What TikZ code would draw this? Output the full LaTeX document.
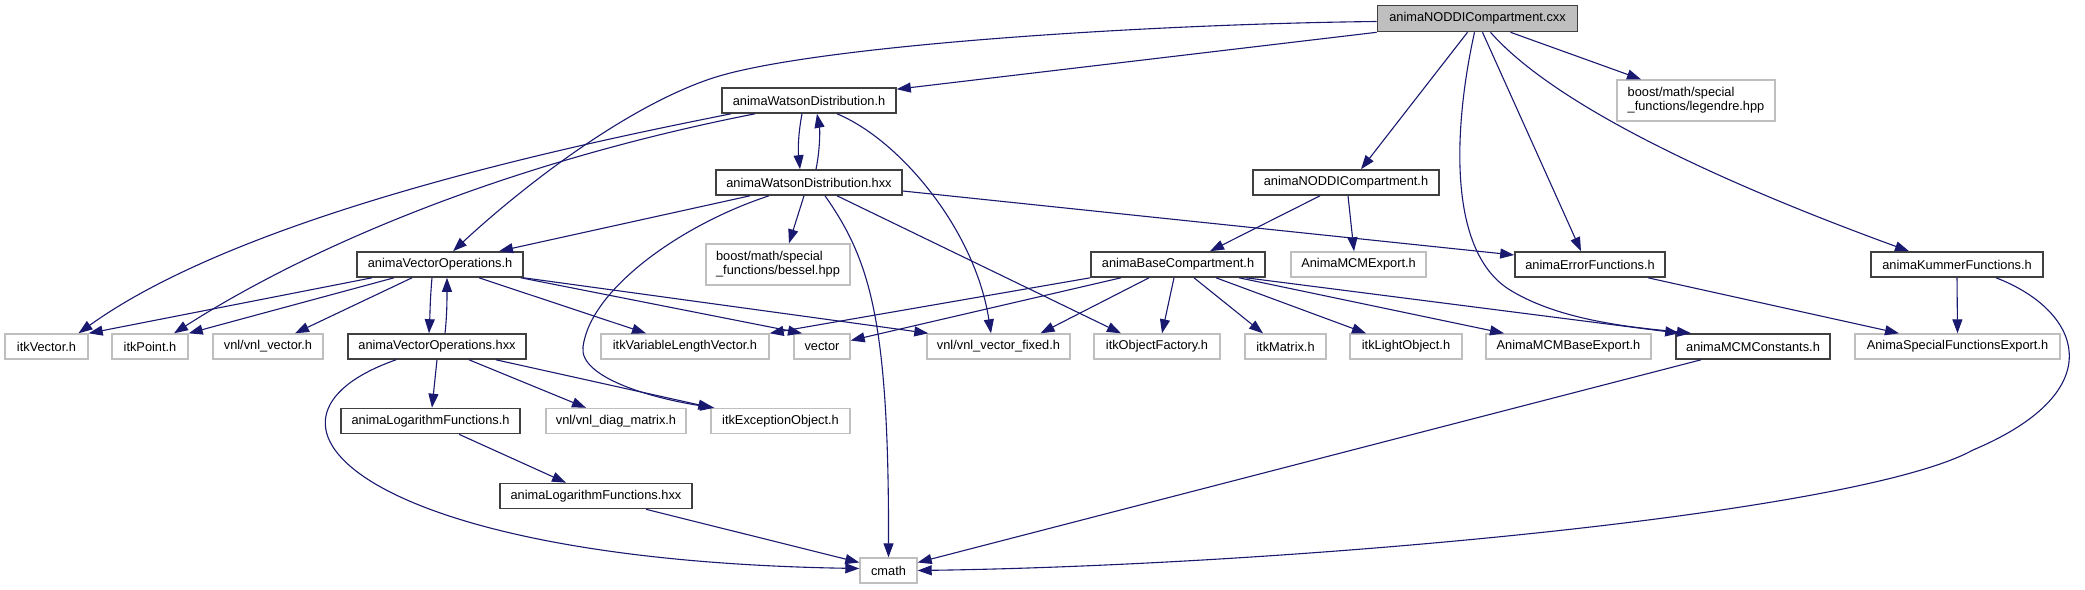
\documentclass[tikz,border=0pt]{standalone}
\usepackage{fontspec}
\setmainfont{Liberation Sans}
\usetikzlibrary{arrows.meta}
\definecolor{edgec}{HTML}{191970}
\definecolor{extc}{HTML}{BFBFBF}
\definecolor{docc}{HTML}{404040}
\begin{document}
\begin{tikzpicture}[x=1pt,y=-1pt,
  box/.style={rectangle, inner sep=0pt, minimum height=25pt, font=\fontsize{12.8}{14}\selectfont, text=black},
  doc/.style={box, draw=docc, line width=1.6pt, fill=white},
  ext/.style={box, draw=extc, line width=1.4pt, fill=white},
  mainf/.style={box, draw=docc, line width=1.6pt, fill=extc},
  e/.style={draw=edgec, line width=1.1pt, -{Triangle[length=14pt,width=10pt]}}]
\useasboundingbox[fill=white] (0,0) rectangle (2085,589);
% row 0
\node[mainf, minimum width=200pt, minimum height=26pt] (cxx) at (1477.5,18.5) {animaNODDICompartment.cxx};
% row 1
\node[doc, minimum width=174pt] (wh) at (809,100.5) {animaWatsonDistribution.h};
\node[ext, minimum width=158pt, minimum height=41pt, align=left] (leg) at (1696,100.5) {boost/math/special\\\_functions/legendre.hpp};
% row 2
\node[doc, minimum width=186pt] (whx) at (809,182.5) {animaWatsonDistribution.hxx};
\node[doc, minimum width=186pt] (noddi) at (1346,182.5) {animaNODDICompartment.h};
% row 3
\node[doc, minimum width=166pt] (vo) at (440,264.5) {animaVectorOperations.h};
\node[ext, minimum width=144pt, minimum height=41pt, align=left] (bessel) at (778,264.5) {boost/math/special\\\_functions/bessel.hpp};
\node[doc, minimum width=174pt] (base) at (1178,264.5) {animaBaseCompartment.h};
\node[ext, minimum width=135pt] (mcmexp) at (1358.5,264.5) {AnimaMCMExport.h};
\node[doc, minimum width=150pt] (err) at (1590,264.5) {animaErrorFunctions.h};
\node[doc, minimum width=172pt] (kum) at (1957,264.5) {animaKummerFunctions.h};
% row 4
\node[ext, minimum width=83pt] (itkvec) at (46.5,346.5) {itkVector.h};
\node[ext, minimum width=76pt] (itkpt) at (150,346.5) {itkPoint.h};
\node[ext, minimum width=110pt] (vnlvec) at (268,346.5) {vnl/vnl\_vector.h};
\node[doc, minimum width=178pt] (vox) at (437,346.5) {animaVectorOperations.hxx};
\node[ext, minimum width=168pt] (ivlv) at (685,346.5) {itkVariableLengthVector.h};
\node[ext, minimum width=56pt] (vect) at (822,346.5) {vector};
\node[ext, minimum width=143pt] (vnlfix) at (998.5,346.5) {vnl/vnl\_vector\_fixed.h};
\node[ext, minimum width=126pt] (iof) at (1157,346.5) {itkObjectFactory.h};
\node[ext, minimum width=81pt] (imat) at (1285.5,346.5) {itkMatrix.h};
\node[ext, minimum width=112pt] (ilo) at (1406,346.5) {itkLightObject.h};
\node[ext, minimum width=165pt] (mcmbase) at (1568.5,346.5) {AnimaMCMBaseExport.h};
\node[doc, minimum width=154pt] (mcmc) at (1753,346.5) {animaMCMConstants.h};
\node[ext, minimum width=205pt] (sfe) at (1957.5,346.5) {AnimaSpecialFunctionsExport.h};
% row 5
\node[doc, minimum width=179pt] (logh) at (430.5,421) {animaLogarithmFunctions.h};
\node[ext, minimum width=140pt] (diag) at (616,421) {vnl/vnl\_diag\_matrix.h};
\node[ext, minimum width=139pt] (iexc) at (780.5,421) {itkExceptionObject.h};
% row 6
\node[doc, minimum width=192pt] (logx) at (596,496) {animaLogarithmFunctions.hxx};
% row 7
\node[ext, minimum width=57pt] (cmath) at (888.5,570.5) {cmath};

% edges from cxx
\draw[e] ([yshift=-3pt]cxx.west) .. controls (1150,24) and (820,45) .. (716,77) .. controls (633,103) and (530,180) .. ([xshift=13pt]vo.north);
\draw[e] (cxx.south west) -- ([yshift=-2pt]wh.north east);
\draw[e] ([xshift=-10pt]cxx.south) -- ([xshift=15pt]noddi.north);
\draw[e] ([xshift=-3pt]cxx.south) .. controls (1455,120) and (1445,250) .. (1510,290) .. controls (1562,322) and (1640,328) .. ([xshift=-62pt]mcmc.north);
\draw[e] ([xshift=5pt]cxx.south) -- ([xshift=-9pt]err.north);
\draw[e] ([xshift=13pt]cxx.south) .. controls (1550,100) and (1700,175) .. ([xshift=-48pt]kum.north);
\draw[e] ([xshift=33pt]cxx.south) -- ([xshift=-55pt]leg.north);
% edges from Watson.h
\draw[e] ([xshift=-7pt]wh.south) .. controls (798,135) and (798,150) .. ([xshift=-9pt]whx.north);
\draw[e] ([xshift=7pt]whx.north) .. controls (820,150) and (820,130) .. ([xshift=8pt]wh.south);
\draw[e] ([xshift=-78pt]wh.south) .. controls (600,140) and (250,210) .. ([xshift=32pt]itkvec.north);
\draw[e] ([xshift=-54pt]wh.south) .. controls (520,160) and (320,240) .. ([xshift=24pt]itkpt.north);
\draw[e] ([xshift=28pt]wh.south) .. controls (900,140) and (975,230) .. ([xshift=-7.5pt]vnlfix.north);
% edges from Watson.hxx
\draw[e] ([xshift=-59pt]whx.south) -- ([xshift=59pt]vo.north);
\draw[e] ([xshift=-5pt]whx.south) -- ([xshift=11pt]bessel.north);
\draw[e] ([xshift=-40pt]whx.south) .. controls (680,225) and (590,290) .. (583,347) .. controls (579,377) and (650,398) .. ([xshift=4pt]iexc.north west);
\draw[e] ([xshift=16pt]whx.south) .. controls (870,260) and (889,320) .. (cmath.north);
\draw[e] ([xshift=28pt]whx.south) -- ([xshift=-36pt]iof.north);
\draw[e] ([yshift=-8.5pt]whx.east) -- ([yshift=9.5pt]err.west);
% edges from VectorOperations.h
\draw[e] ([xshift=-8pt]vo.south) .. controls (430,300) and (430,315) .. ([xshift=-8pt]vox.north);
\draw[e] ([xshift=8pt]vox.north) .. controls (447,315) and (447,300) .. ([xshift=7pt]vo.south);
\draw[e] ([xshift=-68pt]vo.south) -- (itkvec.north east);
\draw[e] ([xshift=-46pt]vo.south) -- (itkpt.north east);
\draw[e] ([xshift=-28pt]vo.south) -- ([xshift=27pt]vnlvec.north);
\draw[e] ([xshift=39pt]vo.south) -- ([xshift=-39pt]ivlv.north);
\draw[e] ([xshift=-3pt]vo.south east) -- ([xshift=-20pt]vect.north);
\draw[e] (vo.south east) -- ([xshift=2pt]vnlfix.north west);
% edges from VectorOperations.hxx
\draw[e] (vox.south) -- ([xshift=1.5pt]logh.north);
\draw[e] ([xshift=32pt]vox.south) -- ([xshift=-30pt]diag.north);
\draw[e] ([xshift=59pt]vox.south) -- ([xshift=2pt]iexc.north west);
\draw[e] ([xshift=-41pt]vox.south) .. controls (225,420) and (360,560) .. ([yshift=2pt]cmath.west);
\draw[e] ([xshift=28.5pt]logh.south) -- ([xshift=-30pt]logx.north);
\draw[e] ([xshift=50pt]logx.south) -- ([yshift=8pt]cmath.west);
% edges from NODDICompartment.h
\draw[e] ([xshift=-26pt]noddi.south) -- ([xshift=32pt]base.north);
\draw[e] ([xshift=2pt]noddi.south) -- ([xshift=-4.5pt]mcmexp.north);
% edges from BaseCompartment.h
\draw[e] (base.south west) -- (ivlv.north east);
\draw[e] ([xshift=-57pt]base.south) -- ([yshift=6pt]vect.east);
\draw[e] ([xshift=-29pt]base.south) -- ([xshift=42pt]vnlfix.north);
\draw[e] ([xshift=-4pt]base.south) -- ([xshift=5pt]iof.north);
\draw[e] ([xshift=16pt]base.south) -- ([xshift=-22.5pt]imat.north);
\draw[e] ([xshift=38pt]base.south) -- ([xshift=-40pt]ilo.north);
\draw[e] ([xshift=61pt]base.south) -- ([xshift=-64.5pt]mcmbase.north);
\draw[e] ([xshift=68pt]base.south) -- ([xshift=4pt]mcmc.north west);
% others
\draw[e] ([xshift=58pt]err.south) -- ([xshift=-58.5pt]sfe.north);
\draw[e] (kum.south) -- (sfe.north);
\draw[e] ([xshift=39pt]kum.south) .. controls (2080,310) and (2115,390) .. (1973,450) .. controls (1859,513) and (1300,565) .. (cmath.east);
\draw[e] ([xshift=-52pt]mcmc.south) -- ([yshift=8pt]cmath.east);
\end{tikzpicture}
\end{document}
